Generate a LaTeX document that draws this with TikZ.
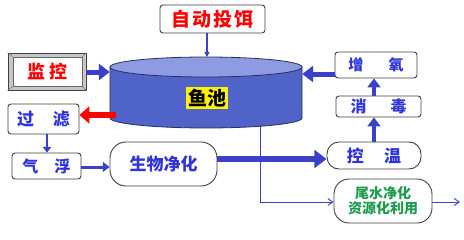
\documentclass[tikz,border=0pt]{standalone}
\usepackage{fontspec}
\newfontfamily\cjk{Noto Sans CJK SC}
\usetikzlibrary{arrows.meta}
\definecolor{tblue}{HTML}{2F35D8}
\definecolor{ablue}{HTML}{3A40C8}
\definecolor{tred}{HTML}{FF0000}
\definecolor{tgreen}{HTML}{1E9A4E}
\definecolor{poolbody}{HTML}{4F63C9}
\definecolor{pooltop}{HTML}{8E9BE2}
\definecolor{poolline}{HTML}{2A2F5A}
\tikzset{
  box/.style={draw=black!75, line width=0.9pt, rounded corners=3pt, fill=white, inner sep=0pt, font=\cjk\bfseries},
  stadium/.style={box, rounded corners=#1},
  thick arrow/.style={draw=ablue, line width=#1, -{Triangle[width=3.2*#1, length=2.2*#1]}},
  thin arrow/.style={draw=ablue, line width=0.9pt, -{Straight Barb[length=5pt, width=7pt]}},
}
\begin{document}
\begin{tikzpicture}[x=1pt,y=1pt]
\useasboundingbox (0,0) rectangle (464,239);
% pool cylinder
\fill[poolbody, draw=poolline, line width=0.8pt] (110,172) -- (110,121) arc[start angle=180, end angle=360, x radius=96, y radius=10] -- (302,172) -- cycle;
\draw[poolline, line width=0.8pt, fill=pooltop] (206,172) ellipse [x radius=96, y radius=10];
\node[inner sep=0pt, minimum width=192pt, minimum height=71pt] (pool) at (206,146.5) {};
\node[fill=yellow, inner sep=2pt, font=\cjk\bfseries\fontsize{19}{21}\selectfont] (label) at (207,141) {鱼池};
% boxes
\node[box, minimum width=105pt, minimum height=28pt, text=tred, font=\cjk\bfseries\fontsize{19}{21}\selectfont] (feed) at (212.5,220) {自\hspace{0.1em}动\hspace{0.1em}投\hspace{0.1em}饵};
% monitor (bevelled)
\node[draw=black!75, line width=0.9pt, fill=black!22, minimum width=78pt, minimum height=37pt, inner sep=0pt] (mon) at (47,167.5) {};
\draw[black!55, line width=0.6pt] (mon.south west) -- +(5,4) (mon.north west) -- +(5,-4) (mon.south east) -- +(-4,4) (mon.north east) -- +(-4,-4);
\node[draw=black!60, line width=0.6pt, fill=white, minimum width=69pt, minimum height=29pt, inner sep=0pt, text=tred, font=\cjk\bfseries\fontsize{18}{20}\selectfont] (monin) at (47.5,167.5) {监\hspace{0.2em}控};
\node[box, minimum width=71pt, minimum height=30pt, text=tblue, font=\cjk\bfseries\fontsize{17}{19}\selectfont] (filt) at (43.5,120) {过\hspace{1.1em}滤};
\node[box, minimum width=69pt, minimum height=26pt, text=tblue, font=\cjk\bfseries\fontsize{16}{18}\selectfont] (float) at (46.5,73) {气\hspace{1em}浮};
\node[stadium=16pt, minimum width=107pt, minimum height=44pt, text=tblue, font=\cjk\bfseries\fontsize{17}{19}\selectfont] (bio) at (163.5,75) {生物净化};
\node[stadium=12pt, minimum width=94pt, minimum height=27pt, text=tblue, text depth=-3pt, font=\cjk\bfseries\fontsize{17}{19}\selectfont] (temp) at (374,83.5) {控\hspace{1.2em}温};
\node[box, minimum width=85pt, minimum height=21pt, text=tblue, font=\cjk\bfseries\fontsize{16}{18}\selectfont] (dis) at (378.5,132.5) {消\hspace{1.5em}毒};
\node[box, minimum width=82pt, minimum height=26pt, text=tblue, font=\cjk\bfseries\fontsize{15}{17}\selectfont] (oxy) at (376,174) {增\hspace{1.7em}氧};
\node[stadium=15pt, minimum width=98pt, minimum height=44pt, text=tgreen, align=center, font=\cjk\bfseries\fontsize{14}{15}\selectfont] (tail) at (383,38) {尾水净化\\资源化利用};
% connectors
\draw[draw=ablue, line width=1.6pt, -{Triangle[width=5pt, length=5pt]}] (feed.south -| 207,0) -- (207,182);
\draw[thick arrow=5pt] (mon.east |- 0,167) -- (pool.west |- 0,167);
\draw[draw=tred, line width=6pt, -{Triangle[width=17pt, length=10pt]}] (pool.west |- 0,124) ++(6,0) -- (filt.east |- 0,124);
\draw[thick arrow=2.6pt] (filt.south -| 47,0) -- (float.north -| 47,0);
\draw[thick arrow=3pt] (float.east |- 0,72) -- (bio.west |- 0,72);
\draw[thick arrow=5.5pt] (bio.east |- 0,80) -- (temp.west |- 0,80);
\draw[thick arrow=4pt] (temp.north -| 374,0) -- (dis.south -| 374,0);
\draw[thick arrow=4pt] (dis.north -| 374,0) -- (oxy.south -| 374,0);
\draw[thick arrow=5pt] (oxy.west |- 0,165) -- (pool.east |- 0,165);
\coordinate (outlet) at (260,114);
\coordinate (drain) at (460,37);
\draw[thin arrow] (outlet) |- (tail.west |- 0,37);
\draw[thin arrow] (tail.east |- 0,37) -- (drain);
\end{tikzpicture}
\end{document}
